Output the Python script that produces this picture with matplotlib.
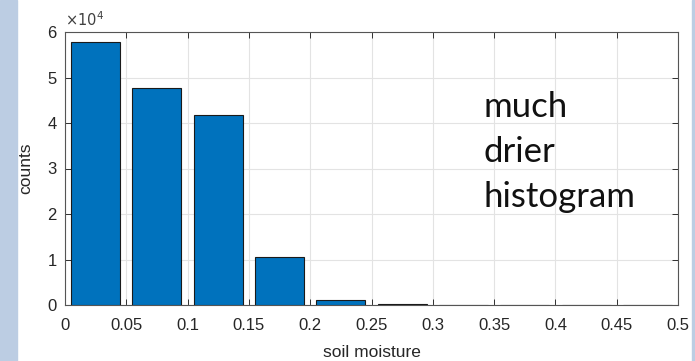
import numpy as np
import matplotlib.pyplot as plt
from matplotlib.patches import Rectangle

plt.rcParams['font.family'] = ['Liberation Sans', 'DejaVu Sans']

# histogram data (bin centres, counts)
bin_centres = [0.025, 0.075, 0.125, 0.175, 0.225, 0.275, 0.325, 0.375, 0.425, 0.475]
counts = [57800, 47800, 41700, 10600, 1100, 250, 0, 0, 0, 0]
xticks = [0, 0.05, 0.1, 0.15, 0.2, 0.25, 0.3, 0.35, 0.4, 0.45, 0.5]
xtick_labels = ['0', '0.05', '0.1', '0.15', '0.2', '0.25', '0.3', '0.35', '0.4', '0.45', '0.5']
yticks = [0, 1, 2, 3, 4, 5, 6]

fig = plt.figure(figsize=(6.95, 3.61), dpi=100)
# slide background bands
fig.patches.append(Rectangle((0, 0), 17 / 695, 1, transform=fig.transFigure,
                             color='#bccde3', zorder=0))
fig.patches.append(Rectangle((692 / 695, 0), 3 / 695, 1, transform=fig.transFigure,
                             color='#bccde3', zorder=0))

ax = fig.add_axes([65 / 695, 1 - 305 / 361, 613 / 695, 273 / 361])
ax.bar(bin_centres, np.array(counts) / 1e4, width=0.04, color='#0072bd',
       edgecolor='#1a1a1a', linewidth=0.8, zorder=3)

ax.set_xlim(0, 0.5)
ax.set_ylim(0, 6)
ax.set_xticks(xticks)
ax.set_xticklabels(xtick_labels)
ax.set_yticks(yticks)
ax.grid(True, color='#e3e3e3', linewidth=0.8, zorder=0)
ax.tick_params(direction='in', top=True, right=True, length=4, width=0.7,
               colors='#303030', labelsize=12, labelcolor='#262626')
ax.tick_params(axis='x', pad=9)
ax.tick_params(axis='y', pad=6)
for s in ax.spines.values():
    s.set_color('#555555')
    s.set_linewidth(0.8)

ax.set_xlabel('soil moisture', fontsize=12.5, color='#262626', labelpad=9)
ax.set_ylabel('counts', fontsize=12.5, color='#262626', labelpad=10)
ax.text(0.0, 1.01, r'$\times10^4$', transform=ax.transAxes, fontsize=10.5,
        color='#404040', va='bottom', ha='left')

ax.text(0.682, 0.785, 'much\ndrier\nhistogram', transform=ax.transAxes,
        fontsize=25, family=['Lato', 'DejaVu Sans'], color='#111111',
        va='top', ha='left', linespacing=1.5, zorder=5)

fig.savefig('out.png', dpi=100)
